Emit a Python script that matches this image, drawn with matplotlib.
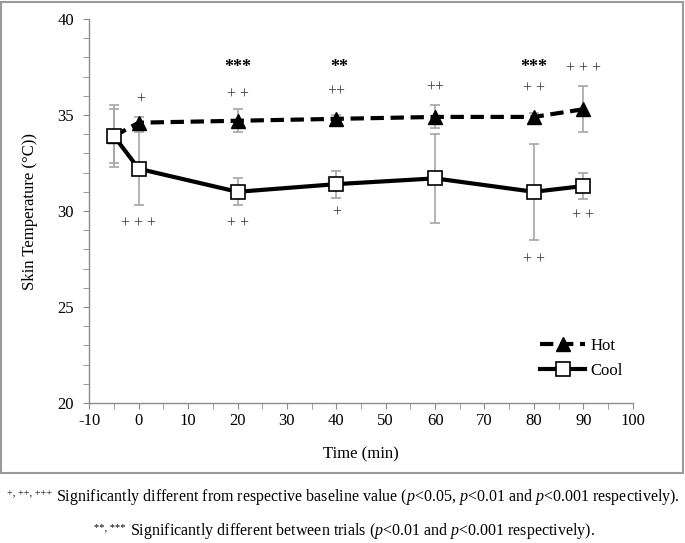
import matplotlib
matplotlib.use("Agg")
import matplotlib.pyplot as plt
from matplotlib.patches import Rectangle

# fonts: Times-like look
plt.rcParams['font.family'] = ['Liberation Serif', 'DejaVu Serif']
plt.rcParams['mathtext.fontset'] = 'custom'
plt.rcParams['mathtext.rm'] = 'Liberation Serif'
plt.rcParams['mathtext.it'] = 'Liberation Serif:italic'
plt.rcParams['axes.unicode_minus'] = False  # plain hyphen like "-10"

# data
time = [-5, 0, 20, 40, 60, 80, 90]
hot_mean = [33.9, 34.6, 34.7, 34.8, 34.9, 34.9, 35.3]
hot_err = [1.4, 0.3, 0.6, 0.2, 0.6, 0.2, 1.2]
cool_mean = [33.9, 32.2, 31.0, 31.4, 31.7, 31.0, 31.3]
cool_err = [1.6, 1.9, 0.7, 0.7, 2.3, 2.5, 0.7]

# significance marks (text, x, y)
plus_marks = [
    ("+", 0.3, 35.8), ("+ + +", 0, 29.4),
    ("+ +", 20, 36.1), ("+ +", 20, 29.35),
    ("++", 40, 36.2), ("+", 40, 29.9),
    ("++", 60, 36.45),
    ("+ +", 80, 36.4), ("+ +", 80, 27.5),
    ("+ + +", 90, 37.45), ("+ +", 90, 29.8),
]
star_marks = [("***", 20, 37.45), ("**", 40.5, 37.45), ("***", 80, 37.45)]

fig = plt.figure(figsize=(6.85, 5.43), dpi=100)
ax = fig.add_axes([0.1304, 0.2578, 0.7932, 0.7072])

gray = "#8c8c8c"
errgray = "#a6a6a6"

# error bars first so markers sit on top
ax.errorbar(time, hot_mean, yerr=hot_err, fmt="none", ecolor=errgray,
            elinewidth=1.2, capsize=3.5, capthick=1.2, zorder=1)
ax.errorbar(time, cool_mean, yerr=cool_err, fmt="none", ecolor=errgray,
            elinewidth=1.2, capsize=3.5, capthick=1.2, zorder=1)

ax.plot(time, hot_mean, color="black", linestyle=(0, (3.2, 1.6)), linewidth=3,
        marker="^", markersize=10, markerfacecolor="black", markeredgecolor="black",
        label="Hot", zorder=3)
ax.plot(time, cool_mean, color="black", linestyle="-", linewidth=3,
        marker="s", markersize=10, markerfacecolor="white", markeredgecolor="black",
        markeredgewidth=1.2, label="Cool", zorder=4)

for txt, x, y in plus_marks:
    ax.text(x, y, txt, ha="center", va="center", fontsize=11.5, color="#333333")
for txt, x, y in star_marks:
    ax.text(x, y, txt, ha="center", va="center", fontsize=13, fontweight="bold")

ax.set_xlim(-10, 100)
ax.set_ylim(20, 40)
ax.set_xticks(range(-10, 101, 10))
ax.set_xticks(range(-5, 100, 10), minor=True)
ax.set_yticks(range(20, 41, 5))
ax.set_yticks(range(20, 41, 1), minor=True)
ax.tick_params(which="both", direction="out", length=4, color=gray, labelsize=12)
ax.tick_params(axis="y", pad=7)
for s in ["top", "right"]:
    ax.spines[s].set_visible(False)
for s in ["left", "bottom"]:
    ax.spines[s].set_color(gray)
    ax.spines[s].set_linewidth(1)

ax.set_xlabel("Time (min)", fontsize=12, labelpad=12)
ax.set_ylabel("Skin Temperature (\u00b0C))", fontsize=12, labelpad=14)

ax.legend(loc="upper left", bbox_to_anchor=(0.83, 0.17), frameon=False,
          fontsize=12, handlelength=2.7, handletextpad=0.3, labelspacing=0.55,
          borderpad=0, borderaxespad=0)

# grey frame around the chart part
fig.add_artist(Rectangle((0.002, 1 - 473 / 543), 0.995, 473 / 543 - 0.003,
                         transform=fig.transFigure, fill=False,
                         edgecolor="#9a9a9a", linewidth=1.5))

# footnotes: main sentence first, then small superscript marks to its left
line1 = fig.text(0.5 + 25 / 685, 1 - 497 / 543,
                 r"Significantly different from respective baseline value "
                 r"($\mathit{p}$<0.05, $\mathit{p}$<0.01 and $\mathit{p}$<0.001 respectively).",
                 ha="center", va="center", fontsize=11.5)
line2 = fig.text(0.5 + 20 / 685, 1 - 531 / 543,
                 r"Significantly different between trials "
                 r"($\mathit{p}$<0.01 and $\mathit{p}$<0.001 respectively).",
                 ha="center", va="center", fontsize=11.5)

renderer = fig.canvas.get_renderer()
for line, sup in [(line1, "+, ++, +++"), (line2, "**, ***")]:
    bb = line.get_window_extent(renderer).transformed(fig.transFigure.inverted())
    fig.text(bb.x0 - 4 / 685, bb.y1 - 2 / 543, sup, ha="right", va="top", fontsize=7.5)

fig.savefig("out.png", dpi=100)
